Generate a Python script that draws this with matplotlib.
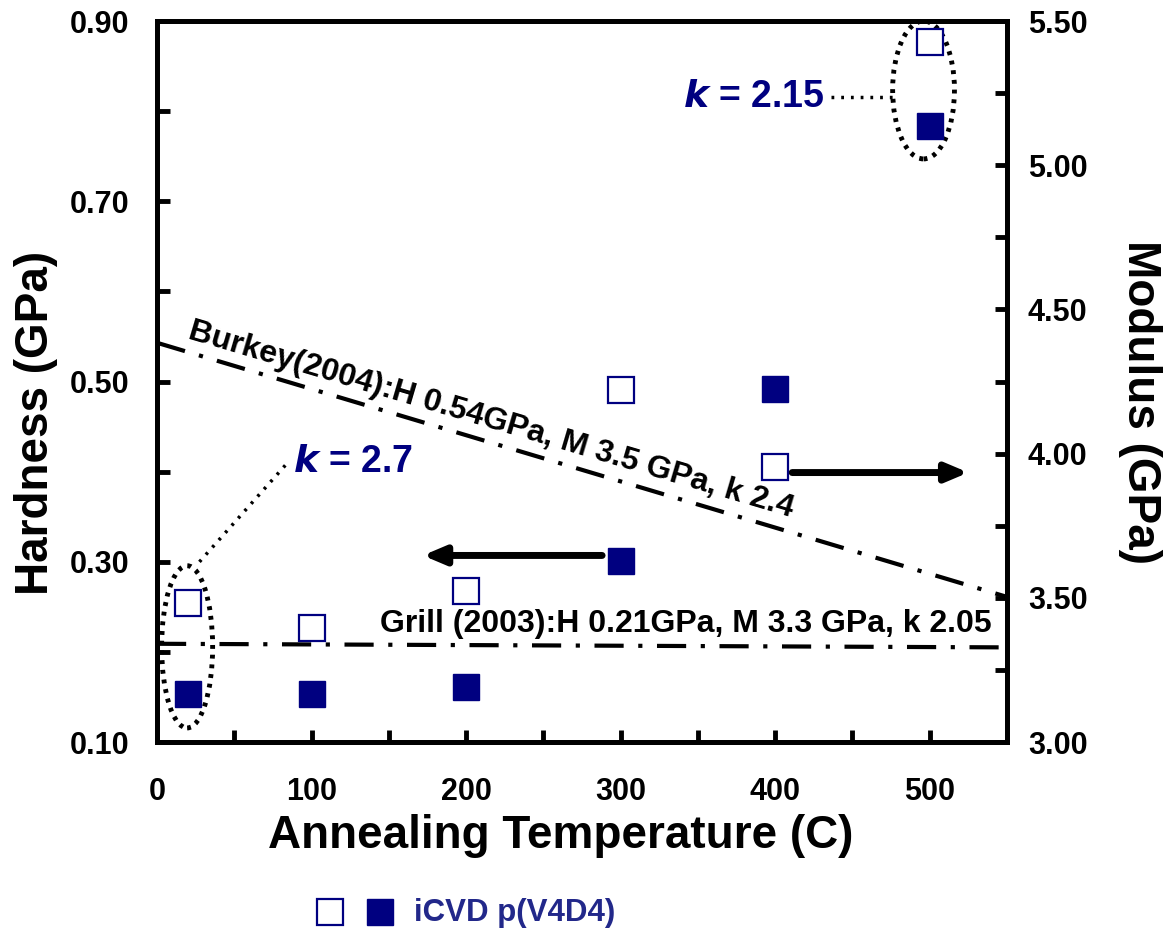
import numpy as np
import matplotlib.pyplot as plt
from matplotlib.patches import Ellipse
from matplotlib.lines import Line2D
from matplotlib.ticker import MultipleLocator, FixedLocator

plt.rcParams['font.family'] = ['Liberation Sans', 'DejaVu Sans']
plt.rcParams['font.weight'] = 'bold'
plt.rcParams['axes.labelweight'] = 'bold'

# данные: твёрдость (левая ось) и модуль (правая ось)
temp = [20, 100, 200, 300, 400, 500]
hardness = [0.153, 0.153, 0.161, 0.301, 0.492, 0.784]
modulus = [3.483, 3.396, 3.524, 4.222, 3.955, 5.427]

# литературные значения
burkey_x = [0, 550]
burkey_h = [0.543, 0.261]
grill_x = [0, 550]
grill_h = [0.209, 0.205]

navy = '#000080'
W, H = 1176, 931

fig = plt.figure(figsize=(11.76, 9.31), dpi=100)
ax = fig.add_axes([0.1335, 0.203, 0.7228, 0.7744])
ax2 = ax.twinx()

ax.set_xlim(0, 550)
ax.set_ylim(0.10, 0.90)
ax2.set_ylim(3.00, 5.50)

ax.plot(temp, hardness, 's', ms=19, color=navy, mec=navy, zorder=5)
ax2.plot(temp, modulus, 's', ms=19, mfc='white', mec=navy, mew=1.6, zorder=5)

dashdot = (0, (7, 3.5, 1, 3.5))
ax.plot(burkey_x, burkey_h, color='black', lw=3, ls=dashdot, clip_on=False)
ax.plot(grill_x, grill_h, color='black', lw=3, ls=dashdot)

ax.text(18, 0.540, 'Burkey(2004):H 0.54GPa, M 3.5 GPa, k 2.4', fontsize=23,
        rotation=-16.5, rotation_mode='anchor', ha='left', va='bottom')
ax.text(540, 0.214, 'Grill (2003):H 0.21GPa, M 3.3 GPa, k 2.05', fontsize=23,
        ha='right', va='bottom')

# эллипсы и подписи k
ax.add_patch(Ellipse((496, 0.8235), 40, 0.153, fill=False, lw=3.5,
                     ls=(0, (0.8, 1.2)), ec='black', clip_on=False))
ax.add_patch(Ellipse((19.5, 0.2056), 33, 0.18, fill=False, lw=3.5,
                     ls=(0, (0.8, 1.2)), ec='black'))
ax.plot([436, 477], [0.816, 0.816], color='black', lw=2.5, ls=(0, (0.8, 2)))
ax.plot([83, 27], [0.407, 0.299], color='black', lw=2.5, ls=(0, (0.8, 2)))

ax.text(386, 0.816, r'$\mathbfit{k}$ = 2.15', fontsize=27, color=navy,
        ha='center', va='center')
ax.text(127, 0.411, r'$\mathbfit{k}$ = 2.7', fontsize=27, color=navy,
        ha='center', va='center')

ax.annotate('', xy=(525, 0.399), xytext=(411, 0.399),
            arrowprops=dict(arrowstyle='-|>,head_length=1.3,head_width=0.55',
                            lw=5, color='black', shrinkA=0, shrinkB=0))
ax.annotate('', xy=(172, 0.307), xytext=(288, 0.307),
            arrowprops=dict(arrowstyle='-|>,head_length=1.3,head_width=0.55',
                            lw=5, color='black', shrinkA=0, shrinkB=0))

# оси
for a in (ax, ax2):
    for s in a.spines.values():
        s.set_linewidth(3.5)
ax.xaxis.set_major_locator(MultipleLocator(100))
ax.xaxis.set_minor_locator(MultipleLocator(50))
ax.yaxis.set_major_locator(FixedLocator([0.1, 0.3, 0.5, 0.7, 0.9]))
ax.yaxis.set_minor_locator(FixedLocator([0.2, 0.4, 0.6, 0.8]))
ax2.yaxis.set_major_locator(MultipleLocator(0.5))
ax2.yaxis.set_minor_locator(MultipleLocator(0.25))
ax.yaxis.set_major_formatter(lambda v, p: f'{v:.2f}')
ax2.yaxis.set_major_formatter(lambda v, p: f'{v:.2f}')

ax.tick_params(axis='both', which='both', direction='in', width=3.5,
               labelsize=22, top=False)
ax.tick_params(which='both', length=9)
ax.tick_params(axis='y', pad=20)
ax.tick_params(axis='x', pad=25)
ax2.tick_params(axis='y', which='both', direction='in', width=3.5,
                length=9, labelsize=22, pad=15)

# подписи осей
fig.text(36 / W, 1 - 423 / H, 'Hardness (GPa)', fontsize=33, rotation=90,
         ha='center', va='center')
fig.text(1140 / W, 1 - 402 / H, 'Modulus (GPa)', fontsize=33, rotation=270,
         ha='center', va='center')
fig.text(561 / W, 1 - 836 / H, 'Annealing Temperature (C)', fontsize=33,
         ha='center', va='center')

# легенда внизу
fig.add_artist(Line2D([330 / W], [1 - 912 / H], marker='s', ms=19,
                      mfc='white', mec=navy, mew=1.6, ls='none'))
fig.add_artist(Line2D([380 / W], [1 - 912 / H], marker='s', ms=19,
                      color=navy, ls='none'))
fig.text(414 / W, 1 - 913 / H, 'iCVD p(V4D4)', fontsize=22.5,
         color='#22288a', va='center', ha='left')

fig.savefig('out.png', dpi=100)
